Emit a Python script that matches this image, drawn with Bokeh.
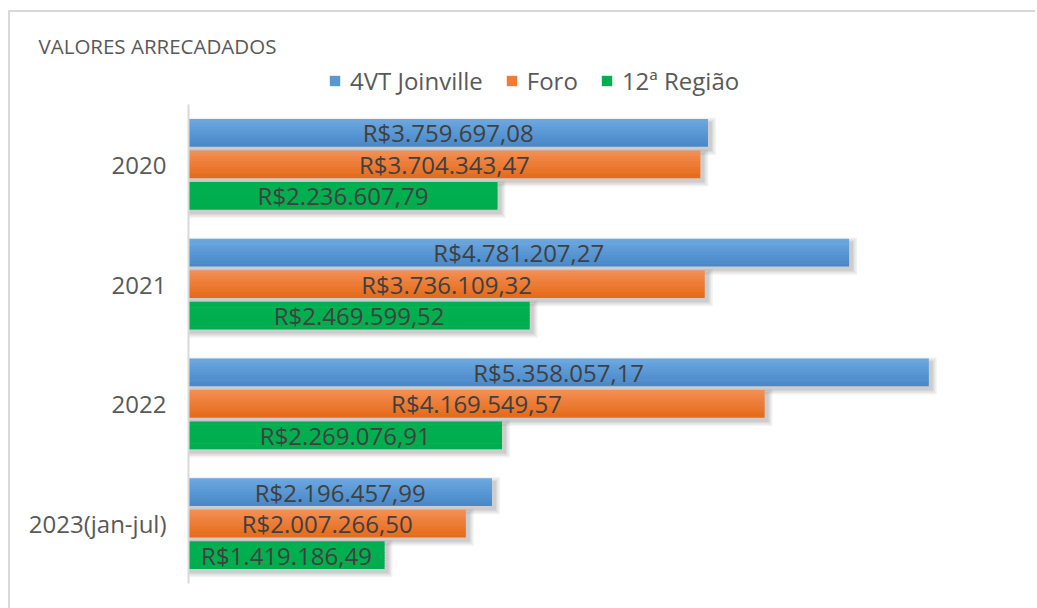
from bokeh.plotting import figure
from bokeh.models import ColumnDataSource, FactorRange, Legend, LegendItem, Label
from bokeh.transform import dodge
from bokeh.core.properties import value
from bokeh.embed import file_html
from bokeh.resources import INLINE

# ---- data ----
categories = ["2020", "2021", "2022", "2023(jan-jul)"]
series_names = ["4VT Joinville", "Foro", "12ª Região"]
vt_joinville = [3759697.08, 4781207.27, 5358057.17, 2196457.99]
foro = [3704343.47, 3736109.32, 4169549.57, 2007266.50]
regiao12 = [2236607.79, 2469599.52, 2269076.91, 1419186.49]
title_text = "VALORES ARRECADADOS"

FONT = "Open Sans"
X_MAX = 6000000
TOTAL_W = 1027
HEAD_H = 92
FRAME_W, FRAME_H = 829, 479
BORDER = "#d9d9d9"

def brl(v):
    s = f"{v:,.2f}"
    s = s.replace(",", "X").replace(".", ",").replace("X", ".")
    return "R$" + s

def mix(c1, c2, t):
    a = [int(c1[i:i + 2], 16) for i in (1, 3, 5)]
    b = [int(c2[i:i + 2], 16) for i in (1, 3, 5)]
    return "#%02x%02x%02x" % tuple(int(round(a[k] + (b[k] - a[k]) * t)) for k in range(3))

series = [
    (vt_joinville, "#6ba7df", "#4a89c9"),
    (foro, "#f38e52", "#e66b1b"),
    (regiao12, "#00b050", "#00ad4e"),
]

# ---------------- header: title + legend ----------------
head = figure(width=TOTAL_W, height=HEAD_H, x_range=(0, 1), y_range=(0, 1),
              min_border=0, output_backend="svg", toolbar_location=None,
              background_fill_color="white", border_fill_color="white")
head.outline_line_color = None
head.axis.visible = False
head.grid.visible = False
head.margin = (12, 0, 0, 10)
head.styles = {"box-shadow": f"-2px -2px 0 0 {BORDER}, -2px 0 0 0 {BORDER}"}

head.add_layout(Label(x=28, y=HEAD_H - 33, x_units="screen", y_units="screen",
                      text=title_text, text_font=FONT, text_font_size="20.5px",
                      text_color="#595959", text_baseline="middle", text_align="left"))

items = []
for (vals, ctop, cbot), name in zip(series, series_names):
    # legend proxy: one point far outside the header's ranges, hidden
    proxy = head.rect(x=[0.5], y=[-5], width=0.01, height=0.01,
                      fill_color=mix(ctop, cbot, 0.5), line_color=None)
    proxy.visible = False
    items.append(LegendItem(label=name, renderers=[proxy], index=0))

legend = Legend(items=items, orientation="horizontal", location=(318, HEAD_H - 84.5),
                glyph_width=13, glyph_height=13, label_standoff=9, spacing=22,
                padding=0, margin=0, border_line_color=None,
                background_fill_alpha=0, inactive_fill_alpha=0,
                label_text_font=FONT, label_text_font_size="24px",
                label_text_color="#595959", label_height=24)
head.add_layout(legend, "center")

# ---------------- main bar chart ----------------
p = figure(
    title=None,
    y_range=FactorRange(factors=list(reversed(categories))),
    x_range=(0, X_MAX),
    frame_width=FRAME_W, frame_height=FRAME_H,
    min_border_left=178, min_border_right=TOTAL_W - 178 - FRAME_W,
    min_border_top=0, min_border_bottom=25,
    output_backend="svg", toolbar_location=None,
    background_fill_color="white", border_fill_color="white",
)
p.margin = (0, 0, 0, 10)
p.styles = {"box-shadow": f"-2px 0 0 0 {BORDER}"}
p.outline_line_color = None
p.xgrid.visible = False
p.ygrid.visible = False
p.xaxis.visible = False

px_x = X_MAX / FRAME_W            # data units per pixel (x)
px_y = len(categories) / FRAME_H  # category units per pixel (y)

bar_h = 0.228
step = 0.263
offsets = [step, 0.0, -step]

N = 10
for (vals, ctop, cbot), off in zip(series, offsets):
    src = ColumnDataSource(dict(cat=categories, val=vals,
                                half=[v / 2 for v in vals],
                                lab=[brl(v) for v in vals]))
    # soft drop shadow (offset right/down, blurred by layering)
    for g in [5, 3.5, 2, 1]:
        ssrc = ColumnDataSource(dict(cat=categories,
                                     r=[v + (3 + g) * px_x for v in vals]))
        p.hbar(y=dodge("cat", off - 3.5 * px_y, range=p.y_range),
               right="r", left=0, height=bar_h + 2 * g * px_y,
               source=ssrc, fill_color="#000000", fill_alpha=0.05, line_color=None)
    # gradient bar built from thin strips
    for i in range(N):
        c = mix(ctop, cbot, i / (N - 1))
        p.hbar(y=dodge("cat", off + bar_h / 2 - (i + 0.5) * bar_h / N, range=p.y_range),
               right="val", left=0, height=bar_h / N + 0.6 * px_y, source=src,
               fill_color=c, line_color=None)
    p.text(x="half", y=dodge("cat", off, range=p.y_range), text="lab", source=src,
           text_align="center", text_baseline="middle",
           text_font=value(FONT), text_font_size="24px", text_color="#404040")

ax = p.yaxis[0]
ax.axis_line_color = BORDER
ax.axis_line_width = 2
ax.major_tick_line_color = None
ax.minor_tick_line_color = None
ax.major_label_text_font = FONT
ax.major_label_text_font_size = "24px"
ax.major_label_text_color = "#595959"
ax.major_label_standoff = 16

open("out.html", "w").write(file_html([head, p], INLINE))
